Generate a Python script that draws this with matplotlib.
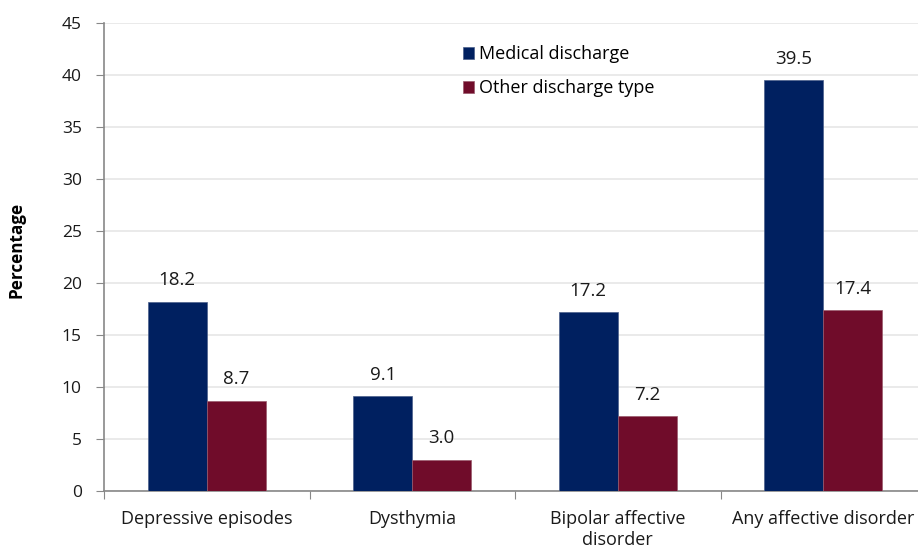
#!/usr/bin/env python3
# Affective disorders by discharge type: grouped bars, two series
import matplotlib; matplotlib.use("Agg")
import matplotlib.pyplot as plt
import numpy as np

categories = ["Depressive episodes", "Dysthymia", "Bipolar affective\ndisorder", "Any affective disorder"]
medical = [18.2, 9.1, 17.2, 39.5]
other = [8.7, 3.0, 7.2, 17.4]
series_names = ["Medical discharge", "Other discharge type"]

plt.rcParams['font.family'] = ['Open Sans', 'DejaVu Sans']
BLUE = "#002060"
RED = "#700C2A"
FS = 13

fig = plt.figure(figsize=(9.18, 5.51), dpi=100)
W, H = 918, 551
# plot area: x 104..926 px, y 23..491 px (right edge runs off the canvas like the original)
ax = fig.add_axes([104 / W, (H - 491) / H, 822 / W, 468 / H])

x = np.arange(len(categories))
bw = 0.287
b1 = ax.bar(x - bw / 2, medical, bw, color=BLUE, edgecolor="#4a5f8a", linewidth=0.5,
            label=series_names[0], zorder=3)
b2 = ax.bar(x + bw / 2, other, bw, color=RED, edgecolor="#9a5a6c", linewidth=0.5,
            label=series_names[1], zorder=3)
for bars, vals in ((b1, medical), (b2, other)):
    for r, v in zip(bars, vals):
        ax.annotate(f"{v:.1f}", (r.get_x() + r.get_width() / 2, v), xytext=(0, 9),
                    textcoords="offset points", ha="center", va="bottom", fontsize=13.5,
                    color="#1a1a1a")

ax.set_xlim(-0.5, len(categories) - 0.5)
ax.set_ylim(0, 45)
ax.set_yticks(np.arange(0, 46, 5))
ax.tick_params(axis='y', labelsize=12.5, length=6, color="#888888", pad=10, labelcolor="#1a1a1a")
ax.set_xticks(np.arange(-0.5, len(categories), 1))
ax.set_xticklabels([])
ax.set_xticks(x, minor=True)
ax.set_xticklabels(categories, minor=True, fontsize=FS, color="#1a1a1a", linespacing=1.2)
ax.tick_params(axis='x', which='major', length=6, color="#888888")
ax.tick_params(axis='x', which='minor', length=0, pad=14)
ax.yaxis.grid(True, color="#e6e6e6", linewidth=1.2, zorder=0)
ax.set_axisbelow(True)
for s in ("top", "right"):
    ax.spines[s].set_visible(False)
for s in ("left", "bottom"):
    ax.spines[s].set_color("#888888")
    ax.spines[s].set_linewidth(1.2)

ax.set_ylabel("Percentage", fontsize=12.3, fontweight="bold", labelpad=26)
ax.yaxis.label.set_y(0.515)

ax.legend(loc="upper left", bbox_to_anchor=((456 - 104) / 822, 1 - (38 - 23) / 468), frameon=False,
          fontsize=FS, handlelength=0.6, handleheight=0.6, handletextpad=0.3, labelspacing=0.9,
          borderaxespad=0)

fig.savefig("out.png", dpi=100)
